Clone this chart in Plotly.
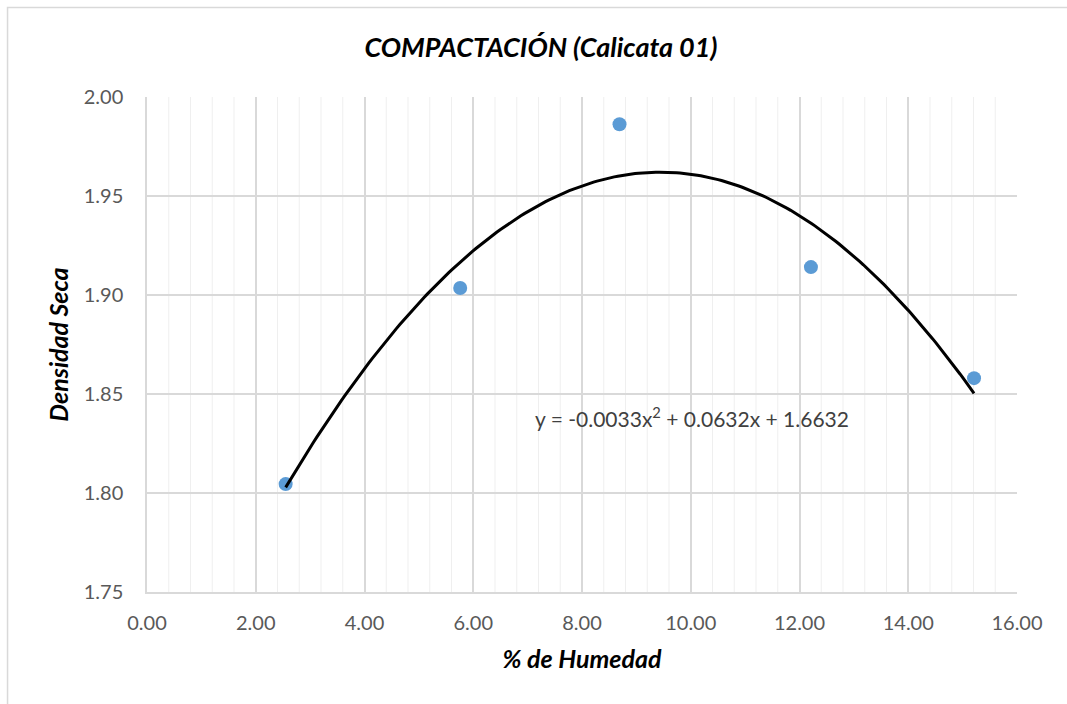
import numpy as np
import plotly.graph_objects as go

# Data
humedad = [2.55, 5.76, 8.69, 12.21, 15.21]
densidad = [1.8045, 1.9035, 1.9862, 1.9141, 1.858]
x_ticks = [0, 2, 4, 6, 8, 10, 12, 14, 16]
y_ticks = [1.75, 1.80, 1.85, 1.90, 1.95, 2.00]
equation = "y = -0.0033x<sup>2</sup> + 0.0632x + 1.6632"

# Polynomial (order 2) trendline fitted to the data, like Excel
coef = np.polyfit(humedad, densidad, 2)
xt = np.linspace(min(humedad), max(humedad), 200)
yt = np.polyval(coef, xt)

FONT = "Lato, Open Sans, sans-serif"

fig = go.Figure()
fig.add_trace(go.Scatter(x=humedad, y=densidad, mode="markers",
                         marker=dict(color="#5B9BD5", size=14), showlegend=False))
fig.add_trace(go.Scatter(x=xt, y=yt, mode="lines",
                         line=dict(color="black", width=3), showlegend=False))

# minor vertical gridlines every 0.4
minor_x = [i * 0.4 for i in range(1, 40) if i % 5 != 0]
for mx in minor_x:
    fig.add_shape(type="line", x0=mx, x1=mx, y0=1.75, y1=2.00, xref="x", yref="y",
                  line=dict(color="#EFEFEF", width=1), layer="below")

# outer chart border
fig.add_shape(type="rect", xref="paper", yref="paper",
              x0=-0.1603, x1=1.07, y0=-0.24, y1=1.1808,
              line=dict(color="#D9D9D9", width=1.5), layer="below")

fig.add_annotation(x=7.1, y=1.8385, xref="x", yref="y", text=equation,
                   showarrow=False, xanchor="left", yanchor="middle",
                   font=dict(family=FONT, size=21, color="#404040"))

fig.update_layout(
    width=1067, height=704,
    margin=dict(l=147, r=50, t=97, b=112),
    paper_bgcolor="white", plot_bgcolor="white",
    title=dict(text="<b><i>COMPACTACIÓN (Calicata 01)</i></b>", x=541 / 1067, xref="container",
               xanchor="center", y=1 - 48 / 704, yanchor="middle",
               font=dict(family=FONT, size=27, color="black")),
    xaxis=dict(range=[0, 16], tickvals=x_ticks, ticktext=[f"{v:.2f}" for v in x_ticks],
               showgrid=True, gridcolor="#D9D9D9", gridwidth=1.5,
               showline=True, linecolor="#D9D9D9", linewidth=1.5, zeroline=False,
               tickfont=dict(family=FONT, size=20, color="#595959"), ticks="",
               ticklabelstandoff=12,
               title=dict(text="<b><i>% de Humedad</i></b>", standoff=18,
                          font=dict(family=FONT, size=25, color="black"))),
    yaxis=dict(range=[1.75, 2.00], tickvals=y_ticks, ticktext=[f"{v:.2f}" for v in y_ticks],
               showgrid=True, gridcolor="#D9D9D9", gridwidth=1.5,
               showline=True, linecolor="#D9D9D9", linewidth=1.5, zeroline=False,
               tickfont=dict(family=FONT, size=20, color="#595959"), ticks="",
               ticklabelstandoff=18,
               title=dict(text="<b><i>Densidad Seca</i></b>", standoff=8,
                          font=dict(family=FONT, size=25, color="black"))),
)

fig.write_html("out.html")
